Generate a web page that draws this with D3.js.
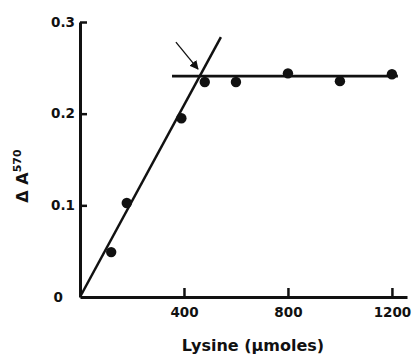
<!DOCTYPE html>
<html>
<head>
<meta charset="utf-8">
<script src="https://cdn.jsdelivr.net/npm/d3@7"></script>
<style>
  html, body { margin: 0; padding: 0; background: #fff; }
  svg { display: block; }
  text { font-family: "DejaVu Sans", Verdana, sans-serif; font-weight: bold; fill: #111; }
</style>
</head>
<body>
<svg id="chart" width="416" height="354"></svg>
<script>
// Measured absorbance change vs. lysine amount
const lysine = [120, 180, 390, 480, 600, 800, 1000, 1200];
const deltaA = [0.049, 0.1025, 0.195, 0.2345, 0.2345, 0.244, 0.2355, 0.243];

// Fitted lines: rising slope through the origin, and the plateau
const slopeLine = [[0, 0], [542, 0.2835]];
const plateauLine = [[354, 0.241], [1223, 0.241]];
// Arrow pointing at the breakpoint
const arrowLine = [[369, 0.278], [454, 0.2486]];

const xTicks = [400, 800, 1200];
const yTicks = [0, 0.1, 0.2, 0.3];
const yTickLabels = ["0", "0.1", "0.2", "0.3"];

const svg = d3.select("#chart");

const x = d3.scaleLinear().domain([0, 1258]).range([80, 407]);
const y = d3.scaleLinear().domain([0, 0.3]).range([297, 22]);

// Axes with inward ticks
const gx = svg.append("g").attr("transform", `translate(0,${y(0)})`)
  .call(d3.axisBottom(x).tickValues(xTicks).tickSizeInner(-9).tickSizeOuter(0)
    .tickPadding(13).tickFormat(d3.format("d")));
const gy = svg.append("g").attr("transform", `translate(${x(0)},0)`)
  .call(d3.axisLeft(y).tickValues(yTicks).tickSizeInner(-7).tickSizeOuter(0)
    .tickPadding(5).tickFormat((d, i) => yTickLabels[i]));

[gx, gy].forEach(g => {
  g.select(".domain").attr("stroke", "#111").attr("stroke-width", 3);
  g.selectAll(".tick line").attr("stroke", "#111").attr("stroke-width", 2.5);
  g.selectAll(".tick text").attr("font-size", 13.5).attr("fill", "#111");
});
gx.selectAll(".tick text").attr("dy", "0.5em");
// zero label sits further left of the axis
gy.selectAll(".tick text").filter(d => d === 0).attr("dx", -12);
gy.selectAll(".tick").filter(d => d === 0).select("line").remove();

const line = d3.line().x(d => x(d[0])).y(d => y(d[1]));

svg.append("path").datum(slopeLine).attr("d", line)
  .attr("stroke", "#111").attr("stroke-width", 2.5).attr("fill", "none");
svg.append("path").datum(plateauLine).attr("d", line)
  .attr("stroke", "#111").attr("stroke-width", 2.8).attr("fill", "none");

// arrow
svg.append("defs").append("marker")
  .attr("id", "head").attr("viewBox", "0 0 10 10")
  .attr("refX", 9).attr("refY", 5)
  .attr("markerWidth", 9).attr("markerHeight", 9)
  .attr("markerUnits", "userSpaceOnUse")
  .attr("orient", "auto")
  .append("path").attr("d", "M0,0 L10,5 L0,10 Z").attr("fill", "#111");
svg.append("path").datum(arrowLine).attr("d", line)
  .attr("stroke", "#111").attr("stroke-width", 1.3).attr("fill", "none")
  .attr("marker-end", "url(#head)");

// data points
svg.append("g").selectAll("circle").data(lysine).join("circle")
  .attr("cx", d => x(d))
  .attr("cy", (d, i) => y(deltaA[i]))
  .attr("r", 5.2)
  .attr("fill", "#111");

// axis titles
svg.append("text")
  .attr("x", 253).attr("y", 351)
  .attr("text-anchor", "middle").attr("font-size", 16)
  .text("Lysine (\u03bcmoles)");

const yt = svg.append("text")
  .attr("transform", "translate(28,176) rotate(-90)")
  .attr("text-anchor", "middle").attr("font-size", 16);
yt.append("tspan").text("\u0394 A");
yt.append("tspan").attr("font-size", 11).attr("dy", -7).text("570");
</script>
</body>
</html>
